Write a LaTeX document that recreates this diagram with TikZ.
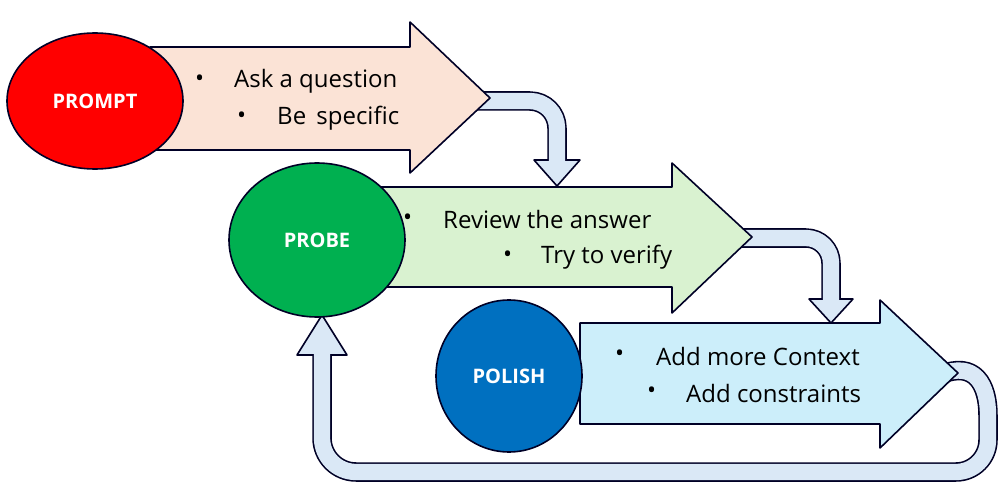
\documentclass[tikz,border=0pt]{standalone}
\usetikzlibrary{shapes.geometric}
\usepackage{fontspec}
\setmainfont{Open Sans}
\begin{document}
\begin{tikzpicture}[x=1pt,y=-1pt,line join=round,
  edge/.style={draw=black!85!blue,line width=1.6pt},
  big/.style={edge},
  ell/.style={edge,ellipse,inner sep=0pt},
  lbl/.style={text=white,font=\fontsize{20}{22}\selectfont\bfseries},
  txt/.style={anchor=west,font=\fontsize{24}{26}\selectfont,inner sep=0pt},
  bandout/.style={line width=19.5pt,draw=black!85!blue},
  bandin/.style={line width=16.3pt,draw=bandc},
]
\definecolor{bandc}{HTML}{DAE8F6}
\definecolor{peach}{HTML}{FBE3D6}
\definecolor{mint}{HTML}{D9F2D0}
\definecolor{sky}{HTML}{CCEEFA}
\useasboundingbox (0,0) rectangle (1005,492);
% connector 1
\draw[bandout] (470,101) -- (530,101) arc[start angle=-90,end angle=0,radius=27] -- (557,160);
\draw[edge,fill=bandc] (534,160) -- (580,160) -- (557,186) -- cycle;
\draw[bandin] (470,101) -- (530,101) arc[start angle=-90,end angle=0,radius=27] -- (557,161.5);
% connector 2
\draw[bandout] (730,238) -- (806,238) arc[start angle=-90,end angle=0,radius=25] -- (831,299);
\draw[edge,fill=bandc] (809,299) -- (853,299) -- (831,323) -- cycle;
\draw[bandin] (730,238) -- (806,238) arc[start angle=-90,end angle=0,radius=25] -- (831,300.5);
% loop
\draw[bandout] (940,375) .. controls (975,360) and (988,385) .. (988,415) -- (988,440) arc[start angle=0,end angle=90,radius=32] -- (356,472) arc[start angle=90,end angle=180,radius=34] -- (322,355);
\draw[edge,fill=bandc] (297,355) -- (347,355) -- (322,315) -- cycle;
\draw[bandin] (940,375) .. controls (975,360) and (988,385) .. (988,415) -- (988,440) arc[start angle=0,end angle=90,radius=32] -- (356,472) arc[start angle=90,end angle=180,radius=34] -- (322,353.5);
% big arrows
\draw[big,fill=peach] (150,47) -- (410,47) -- (410,22) -- (490,98) -- (410,173) -- (410,150) -- (150,150) -- cycle;
\draw[big,fill=mint] (375,187) -- (672,187) -- (672,163) -- (752,237) -- (672,313) -- (672,287) -- (375,287) -- cycle;
\draw[big,fill=sky] (580,323) -- (880,323) -- (880,300) -- (958,373) -- (880,448) -- (880,424) -- (580,424) -- cycle;
% ellipses
\node[ell,fill=red,minimum width=176pt,minimum height=136pt,lbl] (prompt) at (95,101) {PROMPT};
\node[ell,fill={rgb,255:red,0;green,176;blue,80},minimum width=176pt,minimum height=154pt,lbl] (probe) at (317,240) {PROBE};
\node[ell,fill={rgb,255:red,0;green,112;blue,192},minimum width=146pt,minimum height=152pt,lbl] (polish) at (509,376) {POLISH};
% texts
\node[txt] (b1) at (195,81) {•};
\node[txt] (t1) at (234,81) {Ask a question};
\node[txt] (b2) at (237,118) {•};
\node[txt] (t2) at (277,118) {Be\, specific};
\node[txt] (b3) at (403,220) {•};
\node[txt] (t3) at (443,220) {Review the answer};
\node[txt] (b4) at (503,257) {•};
\node[txt] (t4) at (541,257) {Try to verify};
\node[txt] (b5) at (615,356) {•};
\node[txt] (t5) at (656,356) {Add more Context};
\node[txt] (b6) at (647,393) {•};
\node[txt] (t6) at (686,393) {Add constraints};
\end{tikzpicture}
\end{document}
